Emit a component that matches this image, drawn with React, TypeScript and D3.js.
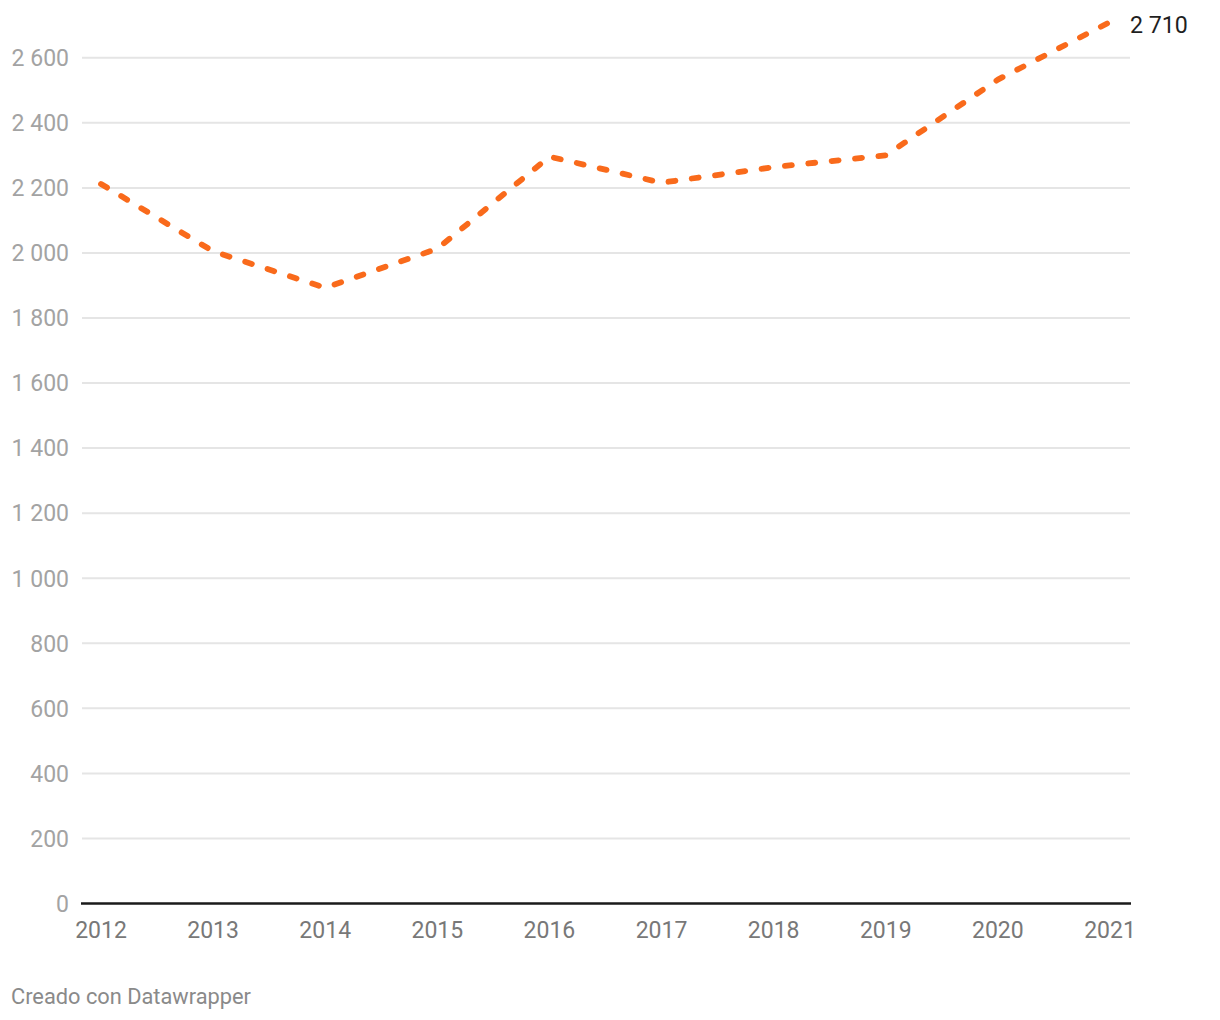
import React from "react";
import * as d3 from "d3";

const years = [2012, 2013, 2014, 2015, 2016, 2017, 2018, 2019, 2020, 2021];
const values = [2212, 2005, 1893, 2013, 2296, 2216, 2264, 2300, 2533, 2710];
const yTicks = [0, 200, 400, 600, 800, 1000, 1200, 1400, 1600, 1800, 2000, 2200, 2400, 2600];
const lastLabel = "2 710";
const credit = "Creado con Datawrapper";

const W = 1220;
const H = 1020;
const FONT = "Roboto, 'Noto Sans', sans-serif";

const fmt = (v: number) => {
  const s = String(v);
  return s.length > 3 ? s.slice(0, s.length - 3) + " " + s.slice(-3) : s;
};

export default function App() {
  const x = d3.scaleLinear().domain([2012, 2021]).range([101, 1110]);
  const y = d3.scaleLinear().domain([0, 2600]).range([903.5, 57.8]);
  const line = d3
    .line<number>()
    .x((_, i) => x(years[i]))
    .y((d) => y(d));
  const pathD = line(values) || "";
  const gridX0 = 82;
  const gridX1 = 1130;

  return (
    <svg
      width={W}
      height={H}
      style={{ position: "absolute", left: 0, top: 0, background: "#fff" }}
      fontFamily={FONT}
    >
      <rect x={0} y={0} width={W} height={H} fill="#fff" />
      {yTicks.map((t) => (
        <g key={t}>
          {t !== 0 && (
            <line x1={gridX0} x2={gridX1} y1={y(t)} y2={y(t)} stroke="#e5e5e5" strokeWidth={2} />
          )}
          <text
            x={69}
            y={y(t)}
            dy="0.36em"
            textAnchor="end"
            fontSize={23}
            fill="#a3a3a3"
          >
            {fmt(t)}
          </text>
        </g>
      ))}
      <line x1={81} x2={1131} y1={y(0)} y2={y(0)} stroke="#1a1a1a" strokeWidth={2.6} />
      {years.map((yr) => (
        <text
          key={yr}
          x={x(yr)}
          y={938}
          textAnchor="middle"
          fontSize={23}
          fill="#787878"
        >
          {yr}
        </text>
      ))}
      <path
        d={pathD}
        fill="none"
        stroke="#f96a1b"
        strokeWidth={5.8}
        strokeLinecap="round"
        strokeLinejoin="round"
        strokeDasharray="7 16.5"
      />
      <text
        x={1130}
        y={y(values[values.length - 1]) + 3}
        dy="0.36em"
        fontSize={23.2}
        fill="#1f1f1f"
      >
        {lastLabel}
      </text>
      <text x={11} y={1004} fontSize={21.8} fill="#8a8a8a">
        {credit}
      </text>
    </svg>
  );
}
